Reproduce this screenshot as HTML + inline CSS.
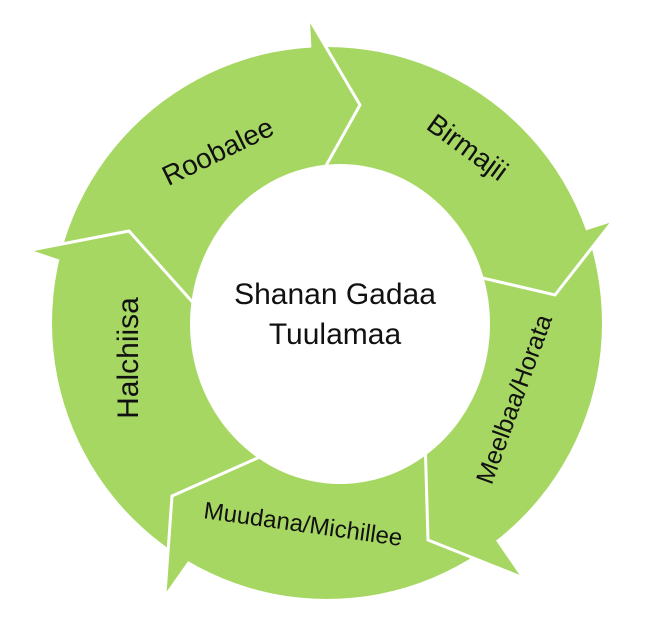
<!DOCTYPE html>
<html><head><meta charset="utf-8"><style>
html,body{margin:0;padding:0;background:#fff;}
svg{display:block;}
text{font-family:"Liberation Sans",sans-serif;fill:#111;}
</style></head><body>
<svg width="648" height="634" viewBox="0 0 648 634">
<ellipse cx="327" cy="323" rx="275" ry="276" fill="#a7d763"/>
<g fill="#a7d763" stroke="none">
<polygon points="310,20 360,105 318,180"/>
<polygon points="612,222 555,295 457,272"/>
<polygon points="521,577 428,540 425,437"/>
<polygon points="165,594 172,496 262,456"/>
<polygon points="31,250 129,231 196,306"/>
</g>
<ellipse cx="340" cy="324" rx="150" ry="160" fill="#fff"/>
<g fill="none" stroke="#fff" stroke-width="3" stroke-linejoin="miter">
<polyline points="310,20 360,105 318,180"/>
<polyline points="612,222 555,295 457,272"/>
<polyline points="521,577 428,540 425,437"/>
<polyline points="165,594 172,496 262,456"/>
<polyline points="31,250 129,231 196,306"/>
</g>
<text x="0" y="0" font-size="28" text-anchor="middle" transform="translate(222,160) rotate(-26)">Roobalee</text>
<text x="0" y="0" font-size="28" text-anchor="middle" transform="translate(462,155) rotate(36)">Birmajii</text>
<text x="0" y="0" font-size="25" text-anchor="middle" transform="translate(522,402) rotate(-70)">Meelbaa/Horata</text>
<text x="0" y="0" font-size="24" text-anchor="middle" transform="translate(302,532) rotate(8)">Muudana/Michillee</text>
<text x="0" y="0" font-size="30" text-anchor="middle" transform="translate(138,358) rotate(-90)">Halchiisa</text>
<text x="335" y="304" font-size="30" text-anchor="middle">Shanan Gadaa</text>
<text x="335" y="344" font-size="30" text-anchor="middle">Tuulamaa</text>
</svg>
</body></html>
